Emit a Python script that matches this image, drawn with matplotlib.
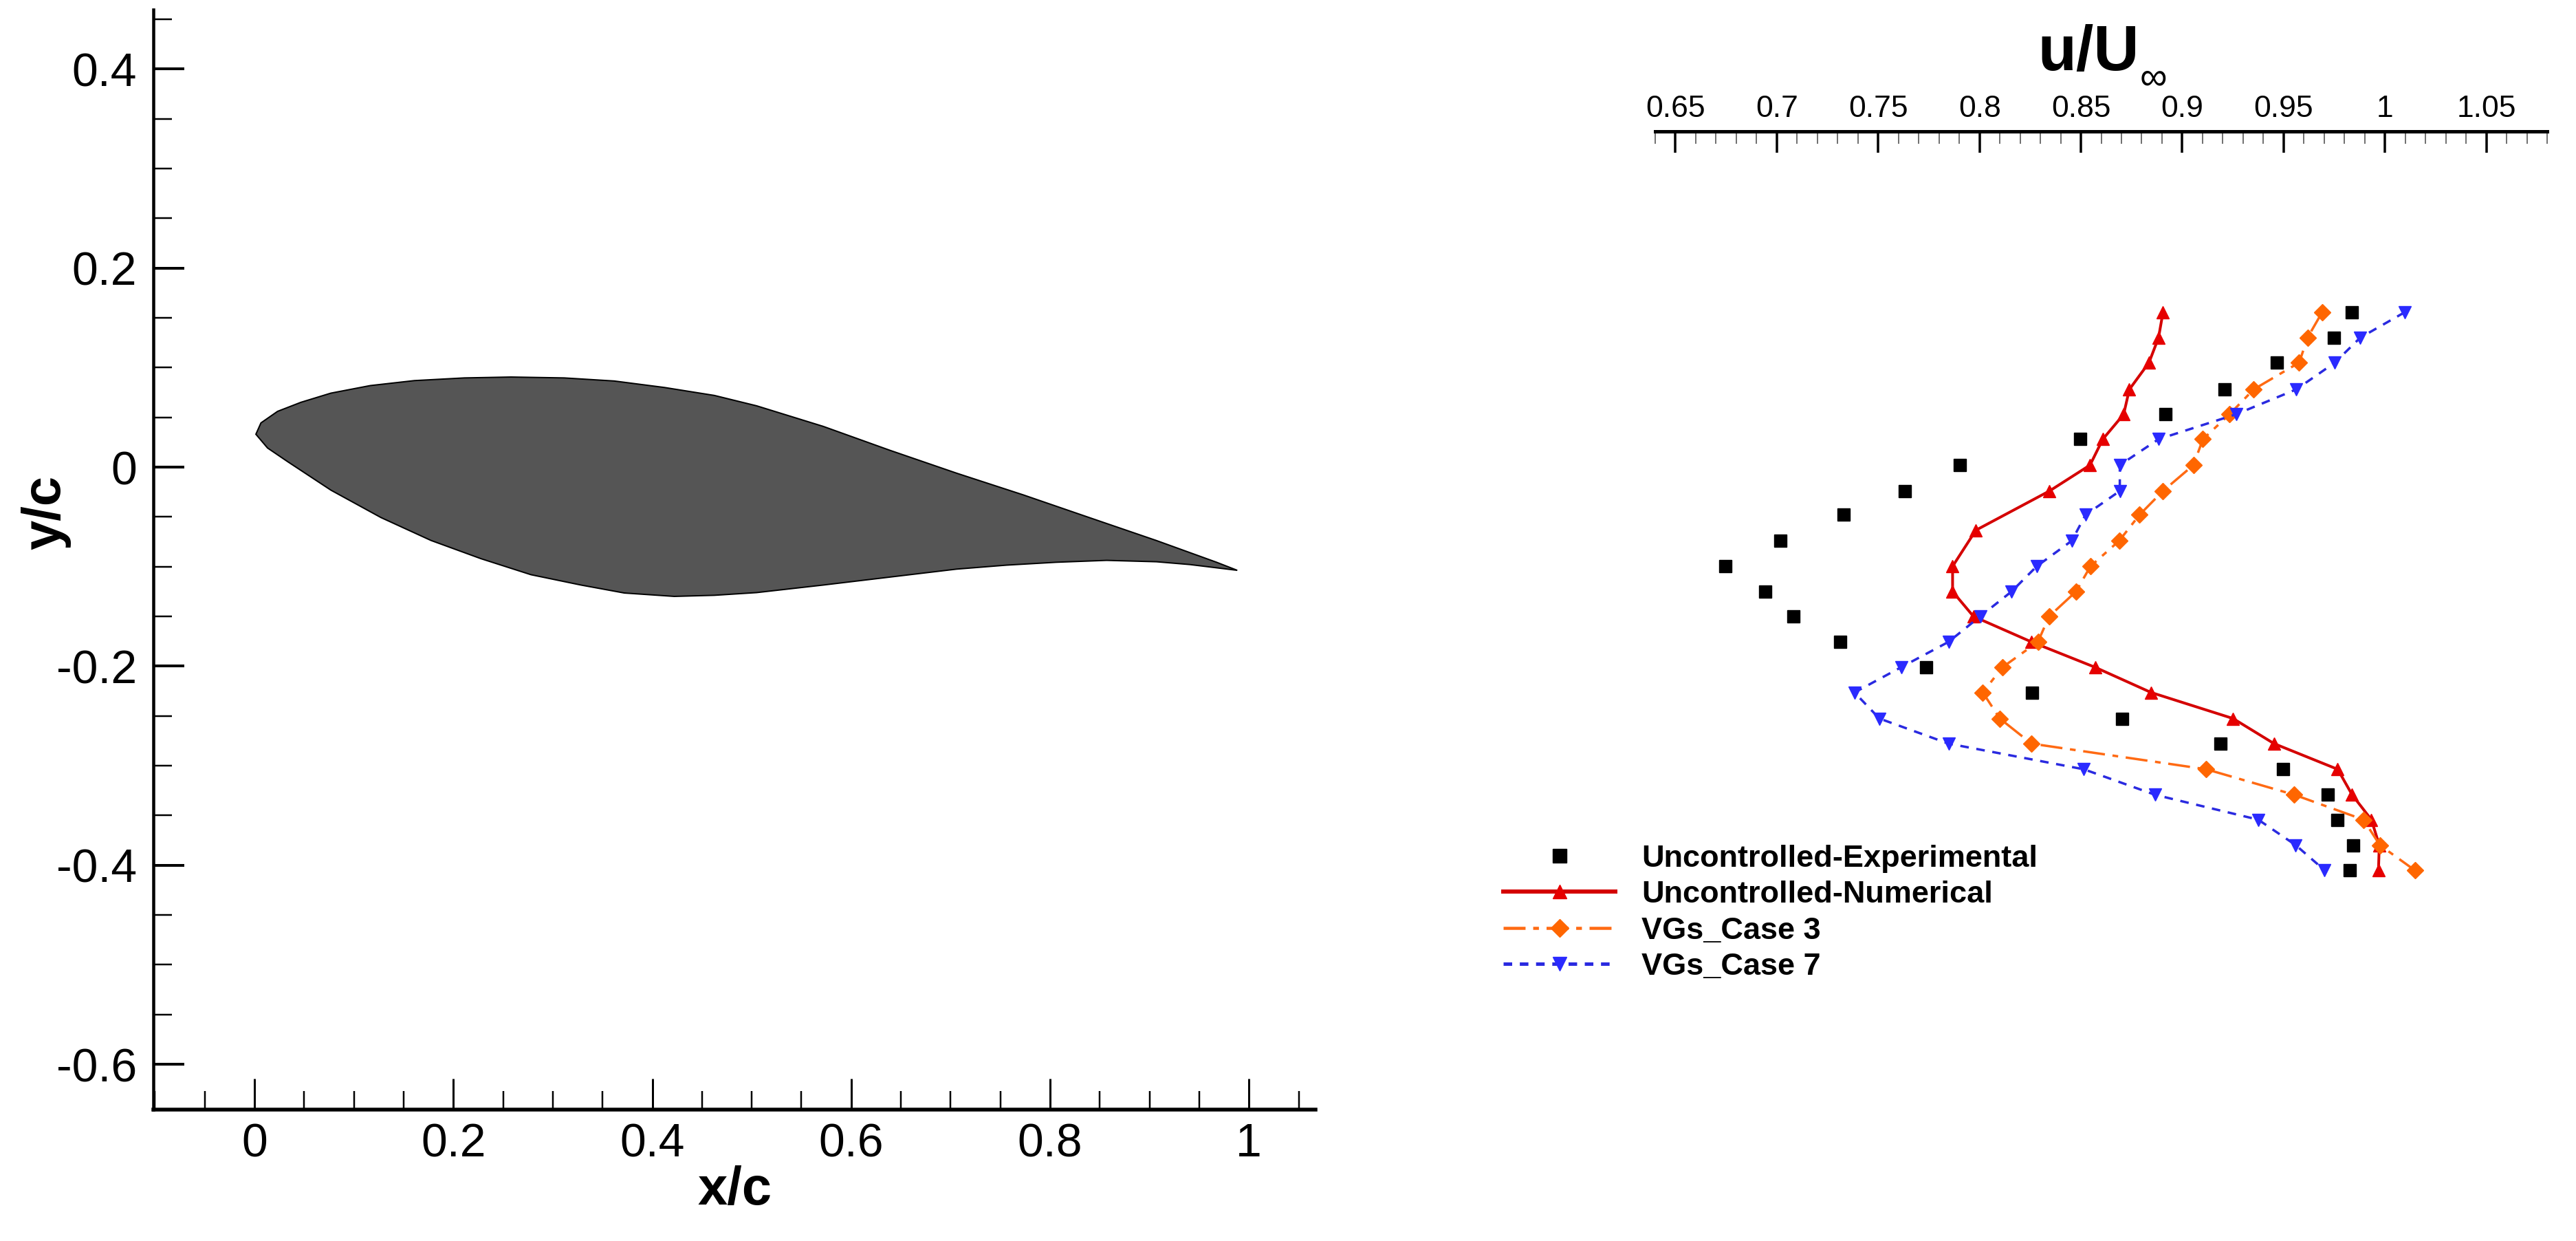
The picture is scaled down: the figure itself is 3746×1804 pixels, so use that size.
import matplotlib
matplotlib.use('Agg')
import matplotlib.pyplot as plt
from matplotlib.lines import Line2D
from matplotlib.ticker import MultipleLocator, FixedLocator
import numpy as np

plt.rcParams['font.family'] = ['Liberation Sans', 'DejaVu Sans']
plt.rcParams['lines.scale_dashes'] = False

# airfoil outline, x/c and y/c, leading edge -> upper -> trailing edge -> lower
foil_x = [0.0014, 0.0065, 0.0232, 0.0467, 0.0768, 0.1164, 0.1607, 0.2109, 0.258, 0.3115, 0.3618,
          0.4122, 0.4624, 0.5048, 0.5719, 0.6389, 0.706, 0.773, 0.84, 0.907, 0.9674, 0.9882,
          0.9405, 0.907, 0.8569, 0.8064, 0.7562, 0.706, 0.6389, 0.5719, 0.5048, 0.4624, 0.4221,
          0.3719, 0.3283, 0.278, 0.2277, 0.1775, 0.1272, 0.0769, 0.0333, 0.0131]
foil_y = [0.033, 0.0444, 0.056, 0.0651, 0.0743, 0.0819, 0.0869, 0.0896, 0.0905, 0.0896, 0.0865,
          0.08, 0.072, 0.0616, 0.0409, 0.0169, -0.0061, -0.0279, -0.0509, -0.0738, -0.0956, -0.1037,
          -0.0979, -0.0951, -0.0937, -0.0956, -0.0985, -0.1025, -0.1105, -0.1185, -0.1261, -0.1288, -0.1299,
          -0.1265, -0.1185, -0.1081, -0.092, -0.0737, -0.0507, -0.0232, 0.0055, 0.0192]

# velocity profile stations
y_exp = [0.1555, 0.130, 0.105, 0.078, 0.053, 0.028, 0.002, -0.024, -0.048, -0.074, -0.0997, -0.125,
         -0.150, -0.1756, -0.2011, -0.2264, -0.2526, -0.2778, -0.3036, -0.3292, -0.3542, -0.3798, -0.405]
y_num = [0.1555, 0.130, 0.105, 0.078, 0.053, 0.028, 0.002, -0.024, -0.0634, -0.0997, -0.125,
         -0.150, -0.1756, -0.2011, -0.2264, -0.2526, -0.2778, -0.3036, -0.3292, -0.3542, -0.3798, -0.405]

u_exp = [0.9837, 0.975, 0.9468, 0.9208, 0.8917, 0.8495, 0.7904, 0.7632, 0.7329, 0.7016, 0.6747, 0.6942,
         0.7081, 0.7312, 0.7737, 0.8259, 0.8703, 0.919, 0.9498, 0.9719, 0.9767, 0.9842, 0.9826]
u_num = [0.8905, 0.8883, 0.8836, 0.8739, 0.8711, 0.8608, 0.8545, 0.8345, 0.7982, 0.7867, 0.7867,
         0.797, 0.8256, 0.857, 0.8846, 0.9251, 0.9453, 0.9767, 0.9838, 0.9933, 0.9972, 0.9968]
u_case3 = [0.969, 0.9618, 0.9577, 0.9352, 0.9233, 0.9102, 0.9055, 0.8905, 0.8789, 0.8689, 0.8547, 0.8476,
           0.8343, 0.8288, 0.8113, 0.8016, 0.81, 0.8256, 0.9119, 0.9553, 0.9894, 0.9975, 1.0147]
u_case7 = [1.0097, 0.9878, 0.9753, 0.9562, 0.9265, 0.8883, 0.8692, 0.8692, 0.8523, 0.8455, 0.8282, 0.8158,
           0.8003, 0.7847, 0.7613, 0.7383, 0.7506, 0.7847, 0.8515, 0.8866, 0.9375, 0.956, 0.9702]

left_xticks = [0, 0.2, 0.4, 0.6, 0.8, 1]
left_xlabels = ['0', '0.2', '0.4', '0.6', '0.8', '1']
left_yticks = [-0.6, -0.4, -0.2, 0, 0.2, 0.4]
left_ylabels = ['-0.6', '-0.4', '-0.2', '0', '0.2', '0.4']
top_ticks = [0.65, 0.7, 0.75, 0.8, 0.85, 0.9, 0.95, 1, 1.05]
top_labels = ['0.65', '0.7', '0.75', '0.8', '0.85', '0.9', '0.95', '1', '1.05']

W, H = 3746, 1804
PT = 72 / 100.  # points per pixel at dpi 100


def box(x0, y0, x1, y1):
    # pixel box (y down) to figure fractions
    return [x0 / W, 1 - y1 / H, (x1 - x0) / W, (y1 - y0) / H]


fig = plt.figure(figsize=(W / 100, H / 100), dpi=100)

# left panel: airfoil
ax1 = fig.add_axes(box(223, 14, 1913, 1613))
ax1.fill(foil_x, foil_y, facecolor='#555555', edgecolor='black', linewidth=2 * PT)
ax1.set_xlim(-0.1017, 1.0669)
ax1.set_ylim(-0.6455, 0.4596)
ax1.spines['top'].set_visible(False)
ax1.spines['right'].set_visible(False)
ax1.spines['left'].set_linewidth(4.5 * PT)
ax1.spines['bottom'].set_linewidth(5.5 * PT)
ax1.set_xticks(left_xticks)
ax1.set_xticklabels(left_xlabels)
ax1.set_yticks(left_yticks)
ax1.set_yticklabels(left_ylabels)
ax1.xaxis.set_minor_locator(MultipleLocator(0.05))
ax1.yaxis.set_minor_locator(MultipleLocator(0.05))
ax1.tick_params(which='major', direction='in', length=45 * PT, width=4 * PT, labelsize=49, pad=20 * PT)
ax1.tick_params(which='minor', direction='in', length=27 * PT, width=2.5 * PT)
ax1.tick_params(axis='x', which='major', width=3 * PT, pad=18 * PT)
ax1.tick_params(axis='y', which='major', pad=24 * PT)
fig.text(1068 / W, 1 - 1730 / H, 'x/c', fontsize=56, fontweight='bold', ha='center', va='center')
fig.text(67 / W, 1 - 745 / H, 'y/c', fontsize=56, fontweight='bold', ha='center', va='center', rotation=90)

# right panel: velocity profiles, same y/c scale as left
ax2 = fig.add_axes(box(2407, 191, 3704, 1300))
ax2.patch.set_alpha(0)
ax2.set_xlim(0.64, 1.08)
ax2.set_ylim((679 - 1300) / 1447., (679 - 191) / 1447.)

num_line, = ax2.plot(u_num, y_num, '-', c='#D40000', lw=4 * PT, marker='^', ms=18 * PT, mfc='#E60000', mec='#E60000', clip_on=False)
case3_line, = ax2.plot(u_case3, y_exp, c='#FF6A13', lw=3.5 * PT, ls=(0, (23, 8, 6, 8)), marker='D', ms=17 * PT, mfc='#FF6600', mec='#FF6600', clip_on=False)
case7_line, = ax2.plot(u_case7, y_exp, c='#2A2AE0', lw=3.5 * PT, ls=(0, (9, 8)), marker='v', ms=18 * PT, mfc='#2A2AFF', mec='#2A2AFF', clip_on=False)
exp_pts, = ax2.plot(u_exp, y_exp, ls='none', marker='s', ms=18 * PT, mfc='black', mec='black', clip_on=False)

for s in ['left', 'right', 'bottom']:
    ax2.spines[s].set_visible(False)
ax2.spines['top'].set_linewidth(5 * PT)
ax2.set_yticks([])
ax2.xaxis.tick_top()
ax2.set_xticks(top_ticks)
ax2.set_xticklabels(top_labels)
ax2.xaxis.set_minor_locator(FixedLocator(np.arange(64, 109) / 100.))
ax2.tick_params(axis='x', which='major', direction='in', length=31 * PT, width=3.5 * PT, labelsize=32, pad=12 * PT)
ax2.tick_params(axis='x', which='minor', direction='in', length=18 * PT, width=1.5 * PT, color='#444444')

fig.text(3037 / W, 1 - 102 / H, 'u/U', fontsize=66, fontweight='bold', ha='center', va='baseline')
fig.text(3131 / W, 1 - 115 / H, '\u221e', fontsize=40, ha='center', va='center')

# legend with heavier handles than the plotted lines
handles = [
    Line2D([], [], ls='none', marker='s', ms=20 * PT, mfc='black', mec='black'),
    Line2D([], [], c='#D40000', lw=6 * PT, marker='^', ms=20 * PT, mfc='#E60000', mec='#E60000'),
    Line2D([], [], c='#FF6A13', lw=4.5 * PT, ls=(0, (23, 8, 6, 8)), marker='D', ms=18 * PT, mfc='#FF6600', mec='#FF6600'),
    Line2D([], [], c='#2A2AE0', lw=5 * PT, ls=(0, (9, 8)), marker='v', ms=20 * PT, mfc='#2A2AFF', mec='#2A2AFF'),
]
labels = ['Uncontrolled-Experimental', 'Uncontrolled-Numerical', 'VGs_Case 3', 'VGs_Case 7']
fig.legend(handles, labels, loc='upper left', bbox_to_anchor=(2186 / W, 1 - 1228 / H), frameon=False,
           borderpad=0, borderaxespad=0, handlelength=3.62, handletextpad=0.84, labelspacing=0.25,
           numpoints=1, prop={'size': 32.5, 'weight': 'bold'})

fig.savefig('out.png', dpi=100)
